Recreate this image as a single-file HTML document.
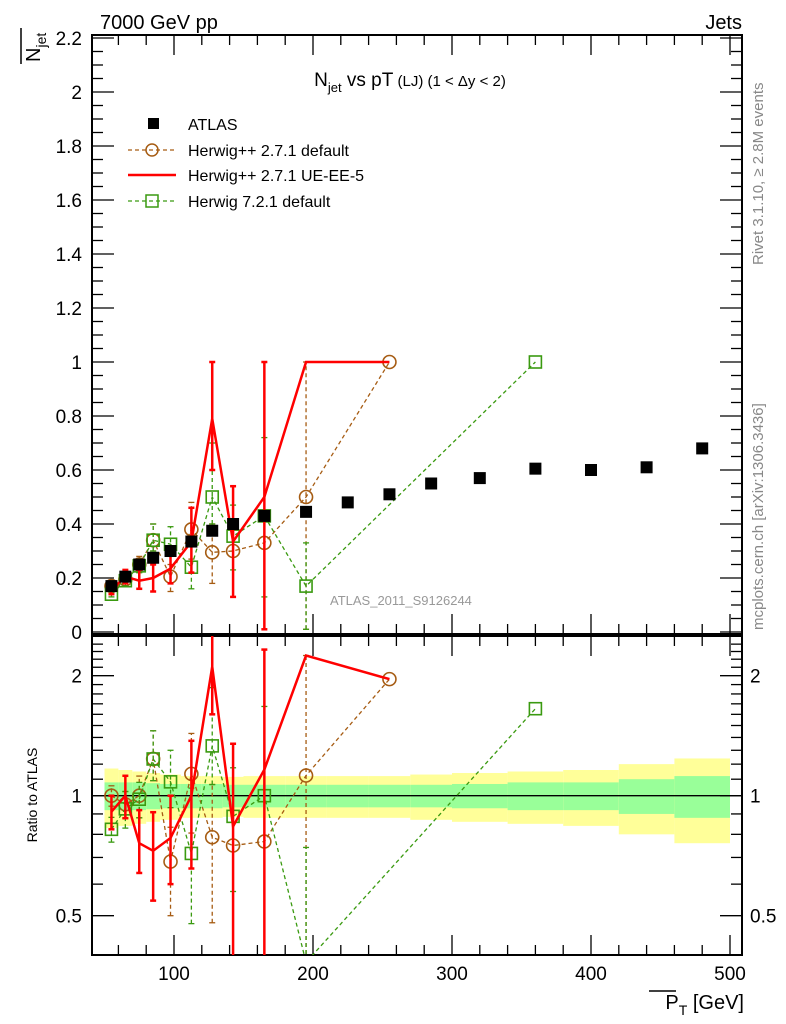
<!DOCTYPE html>
<html><head><meta charset="utf-8"><style>
html,body{margin:0;padding:0;background:#fff;width:786px;height:1024px;overflow:hidden;}
svg{display:block;position:absolute;left:0;top:0;font-family:"Liberation Sans",sans-serif;overflow:hidden;}
</style></head><body>
<svg id="c" width="786" height="1024" viewBox="0 0 786 1024" xmlns="http://www.w3.org/2000/svg">
<defs>
<clipPath id="cm"><rect x="92" y="35" width="650" height="599"/></clipPath>
<clipPath id="cr"><rect x="92" y="636" width="650" height="319"/></clipPath>
</defs>
<g id="bands" clip-path="url(#cr)"></g>
<g id="axes"></g>
<g id="main" clip-path="url(#cm)"></g>
<g id="ratio" clip-path="url(#cr)"></g>
<text x="100" y="29" font-size="20">7000 GeV pp</text>
<text x="742" y="29" font-size="20" text-anchor="end">Jets</text>
<text x="410" y="86" font-size="19" text-anchor="middle">N<tspan font-size="13" dy="6">jet</tspan><tspan dy="-6"> vs pT</tspan><tspan font-size="15"> (LJ) (1 &lt; Δy &lt; 2)</tspan></text>
<g transform="translate(40,62) rotate(-90)"><text font-size="20">N<tspan font-size="14" dy="6">jet</tspan></text><line x1="-2" y1="-19" x2="34" y2="-19" stroke="#000" stroke-width="1.5"/></g>
<text transform="translate(763,265) rotate(-90)" font-size="15" fill="#888">Rivet 3.1.10, ≥ 2.8M events</text>
<text transform="translate(763,630) rotate(-90)" font-size="15" fill="#888">mcplots.cern.ch [arXiv:1306.3436]</text>
<text x="330" y="605" font-size="13" fill="#999">ATLAS_2011_S9126244</text>
<text transform="translate(37,795) rotate(-90)" font-size="14" text-anchor="middle">Ratio to ATLAS</text>
<g><text x="744" y="1009" font-size="20" text-anchor="end">P<tspan font-size="14" dy="6">T</tspan><tspan dy="-6"> [GeV]</tspan></text><line x1="649" y1="991" x2="676" y2="991" stroke="#000" stroke-width="1.5"/></g>
<g id="legend">
<rect x="148" y="118" width="11" height="11" fill="#000"/>
<text x="188" y="130" font-size="16">ATLAS</text>
<line x1="128" y1="150" x2="176" y2="150" stroke="#a65c13" stroke-width="1.3" stroke-dasharray="4,3"/>
<circle cx="152" cy="150" r="6" fill="none" stroke="#a65c13" stroke-width="1.5"/>
<text x="188" y="156" font-size="16">Herwig++ 2.7.1 default</text>
<line x1="128" y1="175" x2="176" y2="175" stroke="#f00" stroke-width="2.5"/>
<text x="188" y="181" font-size="16">Herwig++ 2.7.1 UE-EE-5</text>
<line x1="128" y1="201" x2="176" y2="201" stroke="#3a9a10" stroke-width="1.3" stroke-dasharray="4,3"/>
<rect x="146" y="195" width="12" height="12" fill="none" stroke="#3a9a10" stroke-width="1.5"/>
<text x="188" y="207" font-size="16">Herwig 7.2.1 default</text>
</g>
</svg>
<script>
const atlasX=[55,65,75,85,97.5,112.5,127.5,142.5,165,195,225,255,285,320,360,400,440,480];
const atlasY=[0.17,0.205,0.25,0.275,0.30,0.335,0.375,0.40,0.43,0.445,0.48,0.51,0.55,0.57,0.605,0.60,0.61,0.68];
const binEdges=[50,60,70,80,90,105,120,135,150,180,210,240,270,300,340,380,420,460,500];
const statRel=[0.08,0.08,0.08,0.075,0.07,0.07,0.07,0.065,0.065,0.065,0.065,0.065,0.065,0.07,0.08,0.08,0.1,0.12];
const totRel=[0.17,0.16,0.15,0.14,0.13,0.12,0.12,0.115,0.12,0.12,0.12,0.12,0.13,0.14,0.15,0.16,0.2,0.24];
const hppX=[55,65,75,85,97.5,112.5,127.5,142.5,165,195,255];
const hppY=[0.17,0.195,0.25,0.34,0.205,0.38,0.295,0.30,0.33,0.50,1.0];
const hppLo=[0.16,0.18,0.22,0.30,0.15,0.27,0.18,0.30,0.33,0,1.0];
const hppHi=[0.18,0.21,0.28,0.40,0.25,0.48,0.40,0.30,0.33,1.0,1.0];
const ueX=[55,65,75,85,97.5,112.5,127.5,142.5,165,195,255];
const ueY=[0.155,0.205,0.19,0.20,0.235,0.335,0.79,0.335,0.50,1.0,1.0];
const ueLo=[0.14,0.18,0.16,0.15,0.18,0.22,0.60,0.13,0,1.0,1.0];
const ueHi=[0.17,0.23,0.23,0.25,0.30,0.46,1.0,0.54,1.0,1.0,1.0];
const h7X=[55,65,75,85,97.5,112.5,127.5,142.5,165,195,360];
const h7Y=[0.14,0.19,0.245,0.34,0.325,0.24,0.50,0.355,0.43,0.17,1.0];
const h7Lo=[0.13,0.17,0.22,0.30,0.28,0.16,0.40,0.23,0.13,0,1.0];
const h7Hi=[0.15,0.21,0.27,0.40,0.39,0.35,0.70,0.47,0.72,0.33,1.0];
const NS="http://www.w3.org/2000/svg";
function X(v){return 174+(v-100)*1.39;}
function Y(v){return Math.min(640,632-v*270);}
function R(v){return Math.max(620,Math.min(975,795.7-Math.log2(v)*120));}
function el(p,t,a){const e=document.createElementNS(NS,t);for(const k in a)e.setAttribute(k,a[k]);p.appendChild(e);return e;}
function dataAt(x){return atlasY[atlasX.indexOf(x)];}
const axes=document.getElementById('axes'),bands=document.getElementById('bands'),main=document.getElementById('main'),ratio=document.getElementById('ratio');
for(let i=0;i<atlasX.length;i++){
 const x0=X(binEdges[i]),x1=X(binEdges[i+1]);
 const y=el(bands,'rect',{x:x0,y:R(1+totRel[i]),width:x1-x0,height:R(1-totRel[i])-R(1+totRel[i]),fill:'#ffff99'});
 
 
 const g=el(bands,'rect',{x:x0,y:R(1+statRel[i]),width:x1-x0,height:R(1-statRel[i])-R(1+statRel[i]),fill:'#99ff99'});
 
 
}
el(bands,'line',{x1:92,x2:742,y1:R(1),y2:R(1),stroke:'#000','stroke-width':1.3});
for(const [t,b] of [[35,634],[636,955]]){
 el(axes,'rect',{x:92,y:t,width:650,height:b-t,fill:'none',stroke:'#000','stroke-width':2});
 for(let v=60;v<=500;v+=20){const maj=v%100===0;const L=maj?20:10;
  el(axes,'line',{x1:X(v),x2:X(v),y1:b,y2:b-L,stroke:'#000','stroke-width':1.3});
  el(axes,'line',{x1:X(v),x2:X(v),y1:t,y2:t+L,stroke:'#000','stroke-width':1.3});}
}
for(let v=100;v<=500;v+=100){const t=el(axes,'text',{x:X(v),y:980,'font-size':19,'text-anchor':'middle'});t.textContent=v;
 
 }
for(let i=0;i<=44;i++){const v=i*0.05;const maj=i%4===0;const L=maj?22:11;
 el(axes,'line',{x1:92,x2:92+L,y1:Y(v),y2:Y(v),stroke:'#000','stroke-width':1.3});
 el(axes,'line',{x1:742,x2:742-L,y1:Y(v),y2:Y(v),stroke:'#000','stroke-width':1.3});
 if(maj){const t=el(axes,'text',{x:82,y:Y(v)+7,'font-size':19,'text-anchor':'end'});t.textContent=(i===0||i===20||i===40)?String(Math.round(v)):v.toFixed(1);
 
 }}
const rt=[0.5,0.6,0.7,0.8,0.9,1,1.1,1.2,1.3,1.4,1.5,1.6,1.7,1.8,1.9,2,2.1,2.2,2.3,2.4];
for(const v of rt){const maj=(v===0.5||v===1||v===2);const L=maj?22:11;
 el(axes,'line',{x1:92,x2:92+L,y1:R(v),y2:R(v),stroke:'#000','stroke-width':1.3});
 el(axes,'line',{x1:742,x2:742-L,y1:R(v),y2:R(v),stroke:'#000','stroke-width':1.3});
 if(maj){for(const [xx,anc] of [[82,'end'],[750,'start']]){const t=el(axes,'text',{x:xx,y:R(v)+7,'font-size':19,'text-anchor':anc});t.textContent=v;
 
 }}}
function series(g,xs,ys,lo,hi,col,dash,w,marker,yf,nm){
 el(g,'polyline',{points:xs.map((x,i)=>X(x)+','+yf(ys[i])).join(' '),fill:'none',stroke:col,'stroke-width':w,'stroke-dasharray':dash||'none'});
 xs.forEach((x,i)=>{
  if(hi[i]>lo[i]){const l=Math.max(lo[i],0.01);const e=el(g,'line',{x1:X(x),x2:X(x),y1:yf(l),y2:yf(hi[i]),stroke:col,'stroke-width':w,'stroke-dasharray':dash||'none'});
   
   
   for(const v of [l,hi[i]])el(g,'line',{x1:X(x)-3,x2:X(x)+3,y1:yf(v),y2:yf(v),stroke:col,'stroke-width':w});}
  let m=null;
  if(marker==='c')m=el(g,'circle',{cx:X(x),cy:yf(ys[i]),r:6.5,fill:'none',stroke:col,'stroke-width':1.6});
  else if(marker==='s')m=el(g,'rect',{x:X(x)-6,y:yf(ys[i])-6,width:12,height:12,fill:'none',stroke:col,'stroke-width':1.6});
  if(m){
   }
 });
}
function rat(xs,a){return a.map((v,i)=>Math.max(v,0.001)/dataAt(xs[i]));}
series(main,hppX,hppY,hppLo,hppHi,'#a65c13','4,3',1.3,'c',Y,'herwigpp-default');
series(main,h7X,h7Y,h7Lo,h7Hi,'#3a9a10','4,3',1.3,'s',Y,'herwig7-default');
series(main,ueX,ueY,ueLo,ueHi,'#f00',null,2.5,null,Y,'herwigpp-ueee5');
atlasX.forEach((x,i)=>{const r=el(main,'rect',{x:X(x)-6,y:Y(atlasY[i])-6,width:12,height:12,fill:'#000'});
 
 });
function ratioSeries(xs,ys,lo,hi,col,dash,w,mk,nm){
 series(ratio,xs,rat(xs,ys),rat(xs,lo),rat(xs,hi),col,dash,w,mk,R,nm);
}
ratioSeries(hppX,hppY,hppLo,hppHi,'#a65c13','4,3',1.3,'c','ratio-herwigpp-default');
ratioSeries(h7X,h7Y,h7Lo,h7Hi,'#3a9a10','4,3',1.3,'s','ratio-herwig7-default');
ratioSeries(ueX,ueY,ueLo,ueHi,'#f00',null,2.5,null,'ratio-herwigpp-ueee5');
</script>
</body></html>
